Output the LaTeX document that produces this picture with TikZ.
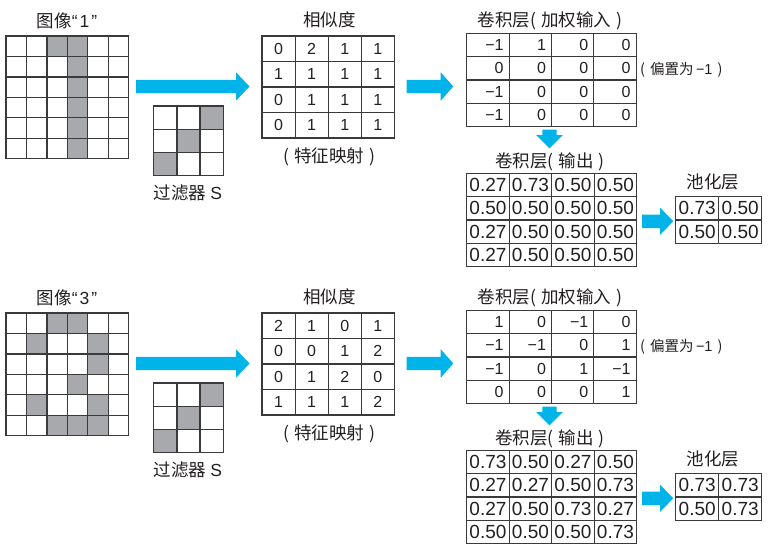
\documentclass[tikz,border=0pt]{standalone}
\usepackage{fontspec}
\setmainfont{Liberation Sans}
\newfontfamily\cjk{Noto Sans CJK SC}
\definecolor{txt}{HTML}{231F20}
\definecolor{ln}{HTML}{3A3A3A}
\definecolor{pix}{HTML}{A7A9AC}
\definecolor{arr}{HTML}{00B4EA}
\tikzset{
  cell/.style={draw=ln, line width=1.1pt, inner sep=0pt, outer sep=0pt, text=txt},
  pixcell/.style={draw=ln, line width=1.3pt, inner sep=0pt, outer sep=0pt, fill=white},
  lbl/.style={text=txt, inner sep=0pt, font=\cjk\fontsize{17.5}{20}\selectfont},
  note/.style={text=txt, inner sep=0pt, font=\cjk\fontsize{14.5}{16}\selectfont},
  blockarrow/.style={fill=arr},
}
\newcommand\lpar{(\hspace{5pt}}
\newcommand\rpar{\hspace{5pt})}
% centered-number table: #1 name #2 x0 #3 y0 #4 cw #5 ch #6 ncols #7 font #8 values
\newcommand\celltable[8]{%
  \foreach \v [count=\k from 0] in {#8} {
    \pgfmathtruncatemacro\rr{\k/#6}
    \pgfmathtruncatemacro\cc{\k-#6*\rr}
    \node[cell, minimum width=#4pt, minimum height=#5pt, font=#7]
      (#1-\rr-\cc) at ({#2+(\cc+0.5)*#4},{#3+(\rr+0.5)*#5}) {\v};
  }}
% right-aligned table
\newcommand\rtable[8]{%
  \pgfmathsetmacro\tw{#4-11}
  \foreach \v [count=\k from 0] in {#8} {
    \pgfmathtruncatemacro\rr{\k/#6}
    \pgfmathtruncatemacro\cc{\k-#6*\rr}
    \node[cell, minimum width=#4pt, minimum height=#5pt, font=#7, text width=\tw pt, align=right]
      (#1-\rr-\cc) at ({#2+(\cc+0.5)*#4},{#3+(\rr+0.5)*#5}) {\v};
  }}
% pixel grid: #1 name #2 x0 #3 y0 #4 cell #5 n-1 #6 gray list
\newcommand\pixgrid[6]{%
  \foreach \rr/\cc in {#6}
    \fill[pix] ({#2+\cc*#4},{#3+\rr*#4}) rectangle ++(#4,#4);
  \foreach \rr in {0,...,#5} \foreach \cc in {0,...,#5}
    \node[pixcell, fill=none, minimum width=#4pt, minimum height=#4pt]
      (#1-\rr-\cc) at ({#2+(\cc+0.5)*#4},{#3+(\rr+0.5)*#4}) {};
}
% horizontal block arrow: x1 xh x2 yc body-half head-half
\newcommand\harrow[6]{%
  \fill[blockarrow] ({#1},{#4-#5}) -- ({#2},{#4-#5}) -- ({#2},{#4-#6}) -- ({#3},{#4})
    -- ({#2},{#4+#6}) -- ({#2},{#4+#5}) -- ({#1},{#4+#5}) -- cycle;}
% vertical block arrow: y1 yh y2 xc body-half head-half
\newcommand\varrow[6]{%
  \fill[blockarrow] ({#4-#5},{#1}) -- ({#4-#5},{#2}) -- ({#4-#6},{#2}) -- ({#4},{#3})
    -- ({#4+#6},{#2}) -- ({#4+#5},{#2}) -- ({#4+#5},{#1}) -- cycle;}
% panel: #1 prefix #2 y offset #3 digit #4 gray list #5 sim #6 weighted #7 output #8 pool
\newcommand\panel[8]{%
  \begin{scope}[yshift=-#2pt]
    \node[lbl] (#1-imglbl) at (67,20.5) {图像{\rmfamily“\hspace{2pt}#3\hspace{2pt}”}};
    \pixgrid{#1-img}{6}{36}{20.45}{5}{#4}
    \pixgrid{#1-flt}{153.7}{106}{23.2}{2}{0/2,1/1,2/0}
    \node[lbl] (#1-fltlbl) at (188,192.5) {过滤器 {\rmfamily S}};
    \harrow{136}{236}{249.5}{86.5}{6.7}{14.2}
    \node[lbl] (#1-simlbl) at (329.5,20) {相似度};
    \celltable{#1-sim}{262}{36}{33.1}{25.5}{4}{\fontsize{16}{18}\selectfont}{#5}
    \node[lbl] (#1-simnote) at (329.5,157) {\lpar 特征映射\rpar};
    \harrow{406.7}{440.7}{453.3}{86.5}{6.7}{14.2}
    \node[lbl] (#1-wlbl) at (550,20.7) {卷积层\lpar 加权输入\rpar};
    \rtable{#1-w}{466.7}{33.3}{42.35}{23.35}{4}{\fontsize{16}{18}\selectfont}{#6}
    \node[note, anchor=west] (#1-bias) at (640,69.8) {(\hspace{5pt}偏置为{\rmfamily\,−1}\hspace{5pt})};
    \varrow{129.5}{135}{148.3}{549.5}{7.2}{13.3}
    \node[lbl] (#1-olbl) at (550,161.7) {卷积层\lpar 输出\rpar};
    \celltable{#1-o}{466.7}{173.3}{42.5}{23.35}{4}{\fontsize{19}{21}\selectfont}{#7}
    \harrow{642}{660}{673.3}{221.3}{6.7}{13.7}
    \node[lbl] (#1-plbl) at (713,181.7) {池化层};
    \celltable{#1-p}{675.7}{196.7}{43}{23.3}{2}{\fontsize{19}{21}\selectfont}{#8}
  \end{scope}}
\begin{document}
\begin{tikzpicture}[x=1pt,y=-1pt]
\useasboundingbox (0,0) rectangle (769,552);
\panel{a}{0}{1}{0/2,0/3,1/3,2/3,3/3,4/3,5/3}
  {0,2,1,1,1,1,1,1,0,1,1,1,0,1,1,1}
  {−1,1,0,0,0,0,0,0,−1,0,0,0,−1,0,0,0}
  {0.27,0.73,0.50,0.50,0.50,0.50,0.50,0.50,0.27,0.50,0.50,0.50,0.27,0.50,0.50,0.50}
  {0.73,0.50,0.50,0.50}
\panel{b}{277}{3}{0/2,0/3,1/1,1/4,2/4,3/3,4/1,4/4,5/2,5/3,5/4}
  {2,1,0,1,0,0,1,2,0,1,2,0,1,1,1,2}
  {1,0,−1,0,−1,−1,0,1,−1,0,1,−1,0,0,0,1}
  {0.73,0.50,0.27,0.50,0.27,0.27,0.50,0.73,0.27,0.50,0.73,0.27,0.50,0.50,0.50,0.73}
  {0.73,0.73,0.50,0.73}
\end{tikzpicture}
\end{document}
